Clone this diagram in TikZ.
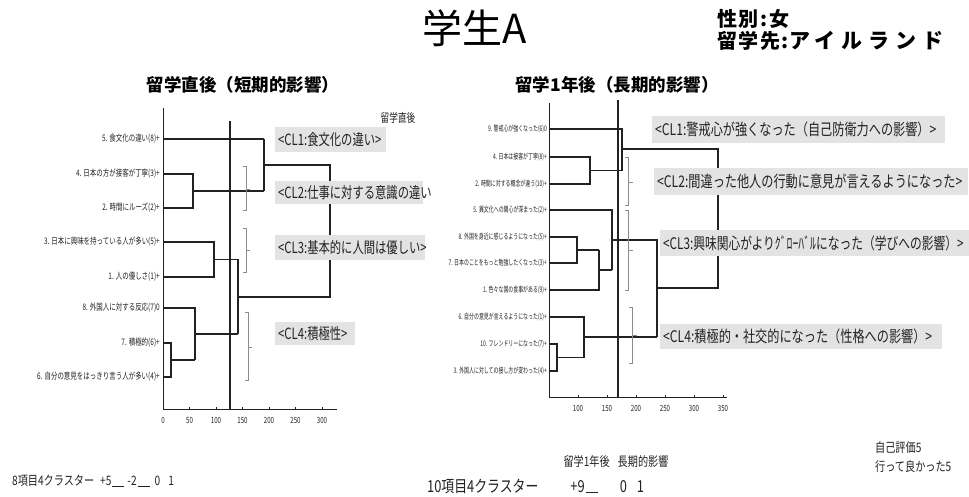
\documentclass[tikz,border=0pt]{standalone}
\usepackage{fontspec}
\newfontfamily\jp{Noto Sans CJK JP}
\newfontfamily\jpls[LetterSpace=8]{Noto Sans CJK JP}
\newfontfamily\jplsw[LetterSpace=28]{Noto Sans CJK JP}
\newfontfamily\jpLeaf[FakeStretch=0.72]{Noto Sans CJK JP}
\newfontfamily\jpLeafR[FakeStretch=0.64]{Noto Sans CJK JP}
\newfontfamily\jpBox[FakeStretch=0.73]{Noto Sans CJK JP}
\newfontfamily\jpBoxR[FakeStretch=0.76]{Noto Sans CJK JP}
\newfontfamily\jpBoxRn[FakeStretch=0.735]{Noto Sans CJK JP}
\newfontfamily\jpNote[FakeStretch=0.78]{Noto Sans CJK JP}
\definecolor{boxgray}{HTML}{E3E3E3}
\definecolor{ink}{HTML}{222222}
\newcommand{\ul}{\rule[-0.5pt]{12pt}{0.7pt}}
\tikzset{
  dline/.style={line width=1.3pt, draw=ink},
  axline/.style={line width=1pt, draw=ink},
  cutline/.style={line width=1.5pt, draw=ink},
  brk/.style={line width=0.5pt, draw=black!45},
  clbox/.style={fill=boxgray, anchor=west, inner xsep=3pt, inner ysep=0pt, align=left, minimum height=24pt, text=ink},
  clL/.style={clbox, font=\jpBox\fontsize{15.5}{16}\selectfont},
  clR/.style={clbox, font=\jpBoxR\fontsize{16}{17}\selectfont},
  leafL/.style={anchor=east, inner sep=0pt, text=ink, font=\jpLeaf\fontsize{9}{10}\selectfont},
  leafR/.style={anchor=east, inner sep=0pt, text=ink, font=\jpLeafR\fontsize{7.7}{8}\selectfont},
  ticklab/.style={inner sep=0pt, text=ink, font=\jpLeaf\fontsize{8.5}{9}\selectfont},
  note/.style={anchor=west, inner sep=0pt, text=ink, font=\jpNote\fontsize{13}{14}\selectfont},
}
\begin{document}
\begin{tikzpicture}[x=1pt,y=-1pt]
\path[use as bounding box, fill=white] (0,0) rectangle (969,496);

% ---------- titles ----------
\node[font=\jp\fontsize{40}{42}\selectfont] (title) at (475,28) {学生A};
\node[anchor=west, inner sep=0pt, font=\jpls\bfseries\fontsize{20}{21}\selectfont] (sex) at (717,19) {性別:女};
\node[anchor=west, inner sep=0pt, font=\jpls\bfseries\fontsize{20}{21}\selectfont] (dest) at (717,41) {留学先:{\jplsw\bfseries\fontsize{21}{22}\selectfont アイルランド}};
\node[font=\jp\bfseries\fontsize{17.5}{18}\selectfont] (tl) at (243,85) {留学直後（短期的影響）};
\node[font=\jp\bfseries\fontsize{17.5}{18}\selectfont] (tr) at (617,85) {留学1年後（長期的影響）};
\node[font=\jpLeaf\fontsize{12}{13}\selectfont, text=ink] (sub) at (398,118) {留学直後};

% ---------- left dendrogram ----------
\node[leafL] (l5) at (160,139) {5. 食文化の違い(8)+};
\node[leafL] (l4) at (160,174) {4. 日本の方が接客が丁寧(3)+};
\node[leafL] (l2) at (160,208) {2. 時間にルーズ(2)+};
\node[leafL] (l3) at (160,242) {3. 日本に興味を持っている人が多い(5)+};
\node[leafL] (l1) at (160,277) {1. 人の優しさ(1)+};
\node[leafL] (l8) at (160,308) {8. 外国人に対する反応(7)0};
\node[leafL] (l7) at (160,343) {7. 積極的(6)+};
\node[leafL] (l6) at (160,377) {6. 自分の意見をはっきり言う人が多い(4)+};

\draw[axline] (163,108) -- (163,409) -- (337,409);
\foreach \v/\x in {0/163,50/189.5,100/216,150/242.5,200/269,250/295.5,300/322}{
  \draw[axline] (\x,409) -- (\x,407);
  \node[ticklab] at (\x,420) {\v};
}
\draw[dline] (163,139) -- (264,139);
\draw[dline] (163,174) -- (193,174) -- (193,208) -- (163,208);
\draw[dline] (193,191) -- (264,191);
\draw[dline] (264,139) -- (264,191);
\draw[dline] (264,165) -- (330,165) -- (330,297) -- (238,297);
\draw[dline] (163,242) -- (214,242) -- (214,277) -- (163,277);
\draw[dline] (214,259.5) -- (238,259.5) -- (238,334);
\draw[dline] (163,343) -- (171,343) -- (171,377) -- (163,377);
\draw[dline] (171,360) -- (195,360);
\draw[dline] (163,308) -- (195,308) -- (195,360);
\draw[dline] (195,334) -- (238,334);
\draw[cutline] (230,121) -- (230,409);

\draw[brk] (243,166) -- (246,166) -- (246,210) -- (243,210);
\draw[brk] (246,189) -- (250,189);
\draw[brk] (243,228) -- (246,228) -- (246,272) -- (243,272);
\draw[brk] (246,250) -- (250,250);
\draw[brk] (245,312) -- (248,312) -- (248,380) -- (245,380);
\draw[brk] (248,347) -- (252,347);

\node[clL, text width=105pt, minimum height=25pt] (cl1L) at (275,139.5) {<CL1:食文化の違い>};
\node[clL, text width=142pt, minimum height=23pt] (cl2L) at (275,192.5) {<CL2:仕事に対する意識の違い};
\node[clL, text width=144pt, minimum height=25pt] (cl3L) at (275,247.5) {<CL3:基本的に人間は優しい>};
\node[clL, text width=74pt, minimum height=23pt] (cl4L) at (275,333.5) {<CL4:積極性>};

% ---------- right dendrogram ----------
\node[leafR] (r9) at (547,129) {9. 警戒心が強くなった(6)0};
\node[leafR] (r4) at (547,157) {4. 日本は接客が丁寧(8)+};
\node[leafR] (r2) at (547,184) {2. 時間に対する概念が違う(10)+};
\node[leafR] (r5) at (547,210) {5. 異文化への関心が深まった(2)+};
\node[leafR] (r8) at (547,237) {8. 外国を身近に感じるようになった(5)+};
\node[leafR] (r7) at (547,263) {7. 日本のことをもっと勉強したくなった(3)+};
\node[leafR] (r1) at (547,290) {1. 色々な国の食事がある(9)+};
\node[leafR] (r6) at (547,317) {6. 自分の意見が言えるようになった(1)+};
\node[leafR] (r10) at (547,344) {10. フレンドリーになった(7)+};
\node[leafR] (r3) at (547,371) {3. 外国人に対しての接し方が変わった(4)+};

\draw[axline] (549,103) -- (549,397) -- (727,397);
\foreach \v/\x in {100/578,150/607,200/636,250/665,300/694,350/723}{
  \draw[axline] (\x,397) -- (\x,395);
  \node[ticklab] at (\x,408) {\v};
}
\draw[dline] (549,129) -- (622,129) -- (622,170.5);
\draw[dline] (549,157) -- (590,157) -- (590,184) -- (549,184);
\draw[dline] (590,170.5) -- (622,170.5);
\draw[dline] (622,149) -- (718,149) -- (718,288) -- (657,288);
\draw[dline] (549,210) -- (612,210) -- (612,270);
\draw[dline] (549,237) -- (577,237) -- (577,263) -- (549,263);
\draw[dline] (577,250) -- (599,250);
\draw[dline] (549,290) -- (599,290) -- (599,250);
\draw[dline] (599,270) -- (612,270);
\draw[dline] (612,240) -- (657,240) -- (657,337);
\draw[dline] (549,344) -- (557,344) -- (557,371) -- (549,371);
\draw[dline] (557,357.5) -- (584,357.5);
\draw[dline] (549,317) -- (584,317) -- (584,357.5);
\draw[dline] (584,337) -- (657,337);
\draw[cutline] (618,100) -- (618,397);

\draw[brk] (625,157) -- (628,157) -- (628,205) -- (625,205);
\draw[brk] (628,182) -- (633,182);
\draw[brk] (625,210) -- (628,210) -- (628,290) -- (625,290);
\draw[brk] (628,250) -- (633,250);
\draw[brk] (629,307) -- (632,307) -- (632,363) -- (629,363);
\draw[brk] (632,335) -- (637,335);

\node[clR, text width=287pt, minimum height=27pt] (cl1R) at (652,129.5) {<CL1:警戒心が強くなった（自己防衛力への影響）>};
\node[clR, text width=308pt, minimum height=27pt] (cl2R) at (654,181.5) {<CL2:間違った他人の行動に意見が言えるようになった>};
\node[clR, font=\jpBoxRn\fontsize{16}{17}\selectfont, text width=303pt, minimum height=26pt] (cl3R) at (660,243) {<CL3:興味関心がよりｸﾞﾛｰﾊﾞﾙになった（学びへの影響）>};
\node[clR, text width=276pt, minimum height=25pt] (cl4R) at (660,336.5) {<CL4:積極的・社交的になった（性格への影響）>};

% ---------- bottom notes ----------
\node[note] (n8) at (12,481) {8項目4クラスター\hspace{6pt}+5\hspace{1pt}\ul\hspace{3pt}-2\hspace{1pt}\ul\hspace{5pt}0\hspace{8pt}1};
\node[note, font=\jpNote\fontsize{16.5}{17}\selectfont] (n10) at (427,486) {10項目4クラスター\hspace{32pt}+9\hspace{1pt}\ul\hspace{22pt}0\hspace{10pt}1};
\node[font=\jpNote\fontsize{13}{14}\selectfont, text=ink] (cap) at (616,462) {留学1年後\hspace{8pt}長期的影響};
\node[note] (self) at (875,448) {自己評価5};
\node[note] (good) at (875,467) {行って良かった5};
\end{tikzpicture}
\end{document}
